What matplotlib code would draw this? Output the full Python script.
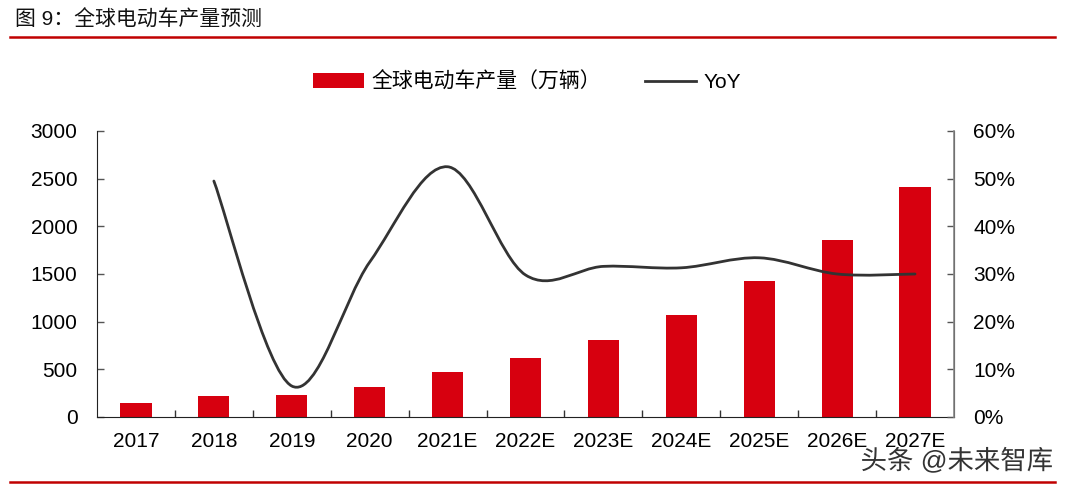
import matplotlib
matplotlib.use("Agg")
import matplotlib.pyplot as plt
from matplotlib.path import Path
from matplotlib.patches import PathPatch, Patch
from matplotlib.lines import Line2D
from matplotlib.ticker import FuncFormatter, FixedLocator
import matplotlib.patheffects as pe
import numpy as np

plt.rcParams['font.family'] = ['Liberation Sans', 'Noto Sans CJK SC', 'DejaVu Sans']

categories = ['2017', '2018', '2019', '2020', '2021E', '2022E', '2023E',
              '2024E', '2025E', '2026E', '2027E']
production = [145, 220, 230, 310, 470, 620, 810, 1070, 1430, 1857, 2413]
yoy_cats = categories[1:]
yoy = [49.5, 6.5, 32.5, 52.5, 29.8, 31.6, 31.3, 33.4, 30.0, 30.0]

RED = '#d7000f'
LINE = '#333333'

fig = plt.figure(figsize=(10.67, 4.87), dpi=100)
ax = fig.add_axes([97/1067, 1-417/487, (954-97)/1067, (417-131)/487])
ax2 = ax.twinx()

x = np.arange(len(categories))
ax.bar(x, production, width=0.40, color=RED, zorder=2)
ax.set_xlim(-0.5, len(categories)-0.5)
ax.set_ylim(0, 3000)
ax.set_yticks(range(0, 3001, 500))
ax.set_xticks(x)
ax.set_xticklabels(categories)
ax.xaxis.set_minor_locator(FixedLocator(np.arange(0.5, len(categories)-0.5, 1)))
ax.tick_params(axis='x', which='major', length=0, pad=11, labelsize=15)
ax.tick_params(axis='x', which='minor', direction='in', length=5, width=1, color='#333333')
ax.tick_params(axis='y', direction='in', length=5, width=1, pad=14, labelsize=15, color='#555555')
for s in ['top']:
    ax.spines[s].set_visible(False)
    ax2.spines[s].set_visible(False)
ax.spines['left'].set_color('#222222')
ax.spines['bottom'].set_color('#222222')
ax2.spines['right'].set_color('#888888')
ax2.spines['right'].set_linewidth(1.2)
ax2.spines['left'].set_visible(False)
ax2.spines['bottom'].set_visible(False)

ax2.set_ylim(0, 60)
ax2.set_yticks(range(0, 61, 10))
ax2.yaxis.set_major_formatter(FuncFormatter(lambda v, p: f"{int(v)}%"))
ax2.tick_params(axis='y', direction='in', length=5, width=1, pad=14, labelsize=15, color='#555555')

# smoothed line (Excel-like Bezier smoothing through the data points)
xs = np.array([categories.index(c) for c in yoy_cats], dtype=float)
ys = np.array(yoy, dtype=float)
n = len(xs)
verts = [(xs[0], ys[0])]
codes = [Path.MOVETO]
for i in range(n-1):
    p0 = np.array([xs[max(i-1, 0)], ys[max(i-1, 0)]])
    p1 = np.array([xs[i], ys[i]])
    p2 = np.array([xs[i+1], ys[i+1]])
    p3 = np.array([xs[min(i+2, n-1)], ys[min(i+2, n-1)]])
    c1 = p1 + (p2 - p0) / 6.0
    c2 = p2 - (p3 - p1) / 6.0
    verts += [tuple(c1), tuple(c2), tuple(p2)]
    codes += [Path.CURVE4]*3
path = Path(verts, codes)
ax2.add_patch(PathPatch(path, facecolor='none', edgecolor=LINE, lw=2.0, zorder=3,
                        capstyle='round', joinstyle='round'))

# legend
handles = [Patch(facecolor=RED, edgecolor='none'),
           Line2D([0], [0], color=LINE, lw=2.0)]
leg = fig.legend(handles, ['全球电动车产量（万辆）', 'YoY'], loc='center',
                 bbox_to_anchor=(527/1067, 1-82/487), ncol=2, frameon=False,
                 fontsize=15, handlelength=2.45, handleheight=0.7,
                 columnspacing=2.1, handletextpad=0.35)

# title and decorations
fig.text(15/1067, 1-20/487, '图 9：全球电动车产量预测', fontsize=15,
         va='center', ha='left', color='#111111')
fig.add_artist(Line2D([10/1067, 1055/1067], [1-37/487, 1-37/487],
                      color='#c00000', lw=1.8))
fig.add_artist(Line2D([10/1067, 1055/1067], [1-482/487, 1-482/487],
                      color='#c00000', lw=1.8))
fig.text(1053/1067, 1-461/487, '头条 @未来智库', fontsize=19, ha='right',
         va='center', color='#333333',
         path_effects=[pe.withStroke(linewidth=2, foreground='white')])

fig.savefig('out.png', dpi=100)
